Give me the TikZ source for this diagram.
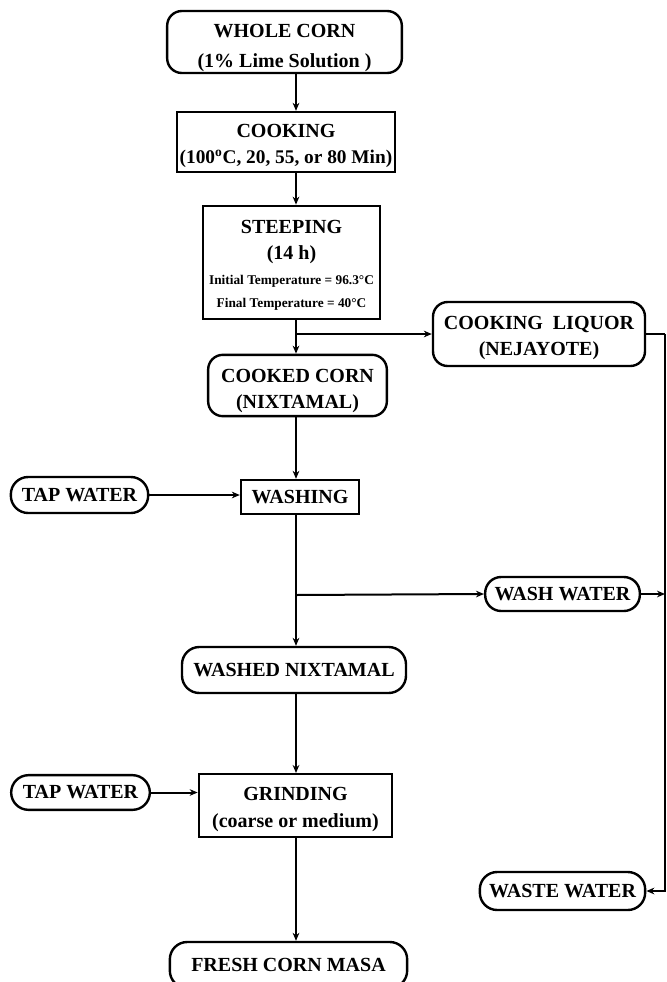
\documentclass[tikz,border=0pt]{standalone}
\usepackage{fontspec}
\setmainfont{Liberation Serif}
\usetikzlibrary{arrows.meta}

\newcommand{\smallfnt}{\fontsize{10}{12}\selectfont}
\newcommand{\midfnt}{\fontsize{14.5}{20}\selectfont}
\newcommand{\lowtext}[1]{\rule{0pt}{#1}}

\begin{document}
\begin{tikzpicture}[x=0.75pt, y=-0.75pt, line width=1.5pt,
	every node/.style={font=\bfseries\fontsize{15}{20}\selectfont, align=center, inner sep=0pt, line width=1.8pt},
	proc/.style={draw, rectangle},
	term/.style={draw, rounded corners=11pt},
	flow/.style={-{Stealth[length=6pt, width=5pt]}}]
	\useasboundingbox (0,0) rectangle (667,982);
	\coordinate (spine) at (296,0);
	% main column
	\node[term, minimum width=176pt, minimum height=46.5pt] (whole) at (284.5,42) {\lowtext{19pt}WHOLE CORN\\[3pt](1\% Lime Solution )};
	\node[proc, minimum width=163.5pt, minimum height=45pt] (cook) at (286,142) {\lowtext{16pt}COOKING\\{\midfnt (100\textsuperscript{o}C, 20, 55, or 80 Min)}};
	\node[proc, minimum width=133pt, minimum height=85pt] (steep) at (291.5,262.5) {\lowtext{14pt}STEEPING\\[-1pt](14 h)\\[-1pt]{\smallfnt Initial Temperature = 96.3°C}\\[-3pt]{\smallfnt Final Temperature = 40°C}};
	\node[term, minimum width=134pt, minimum height=46pt] (cooked) at (297.5,385.5) {\lowtext{18pt}COOKED CORN\\(NIXTAMAL)};
	\node[proc, minimum width=88.5pt, minimum height=25.5pt] (wash) at (300,497) {WASHING};
	\node[term, minimum width=168pt, minimum height=34.5pt, rounded corners=13pt] (washed) at (294,670) {WASHED NIXTAMAL};
	\node[proc, minimum width=145pt, minimum height=47pt] (grind) at (295.5,805.5) {\lowtext{16pt}GRINDING\\(coarse or medium)};
	\node[term, minimum width=178pt, minimum height=34.5pt, rounded corners=13pt] (masa) at (288.5,965) {FRESH CORN MASA};
	% side streams
	\node[term, minimum width=103pt, minimum height=27pt, rounded corners=13pt] (tap1) at (79.5,495) {TAP WATER};
	\node[term, minimum width=104pt, minimum height=26pt, rounded corners=13pt] (tap2) at (80.5,792.5) {TAP WATER};
	\node[term, minimum width=159pt, minimum height=48pt] (liquor) at (539,334) {\lowtext{16pt}COOKING\ \ LIQUOR\\(NEJAYOTE)};
	\node[term, minimum width=116pt, minimum height=25.5pt, rounded corners=12pt] (washw) at (562.5,594) {WASH WATER};
	\node[term, minimum width=124pt, minimum height=28.5pt, rounded corners=13pt] (waste) at (562.5,891) {WASTE WATER};
	\coordinate (liqsplit) at (296,334);
	\coordinate (washsplit) at (296,595);
	\coordinate (drain) at (665,334);

	\draw[flow] (whole.south -| spine) -- (cook.north -| spine);
	\draw[flow] (cook.south -| spine) -- (steep.north -| spine);
	\draw[flow] (steep.south -| spine) -- (cooked.north -| spine);
	\draw[flow] (liqsplit) -- (liquor.west);
	\draw[flow] (cooked.south -| spine) -- (wash.north -| spine);
	\draw[flow] (tap1.east) -- (tap1.east -| wash.west);
	\draw[flow] (wash.south -| spine) -- (washed.north -| spine);
	\draw[flow] (washsplit) -- (washw.west);
	\draw[flow] (washed.south -| spine) -- (grind.north -| spine);
	\draw[flow] (tap2.east) -- (tap2.east -| grind.west);
	\draw[flow] (grind.south -| spine) -- (masa.north -| spine);
	% waste line on the right
	\draw (liquor.east) -- (drain);
	\draw[flow] (drain) |- (waste.east);
	\draw[flow] (washw.east) -- (washw.east -| drain);
\end{tikzpicture}
\end{document}
